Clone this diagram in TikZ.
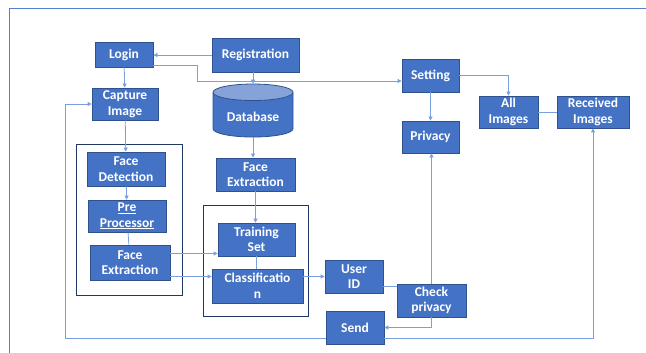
\documentclass[tikz,border=0pt]{standalone}
\usepackage{fontspec}
\setmainfont{Carlito}
\usepackage{tikz}
\usetikzlibrary{arrows.meta,positioning,calc,shapes.geometric}

\definecolor{boxblue}{RGB}{68,114,196}
\definecolor{boxedge}{RGB}{47,82,143}
\definecolor{linkblue}{RGB}{120,160,220}
\definecolor{grpedge}{RGB}{31,56,100}
\definecolor{framblue}{RGB}{80,130,210}

\begin{document}
\begin{tikzpicture}[
    >={Triangle[length=4pt,width=4pt]},
    x=1pt, y=-1pt,
    box/.style={draw=boxedge,fill=boxblue,text=white,thick,align=center,
                inner sep=1pt,font=\fontsize{13.5}{15.5}\selectfont\bfseries},
    grp/.style={draw=grpedge,thick,minimum width=#1},
    link/.style={->,linkblue,thick},
    tie/.style={-,linkblue,thick},
  ]
  \useasboundingbox (0,0) rectangle (646,353);

  % page frame
  \draw[framblue,thick] (9,353) -- (9,8) -- (646,8);

  % --- group boxes (drawn first, behind the steps) ---
  \node[grp=106pt,minimum height=151pt] (grpa) at (129,219.5) {};
  \node[grp=105pt,minimum height=111pt] (grpb) at (255.5,260.5) {};

  % --- top row ---
  \node[box,minimum width=58pt,minimum height=25pt] (login) at (124,54.5) {Login};
  \node[box,minimum width=87pt,minimum height=34pt] (reg)   at (255.5,55) {Registration};

  % --- left column: capture and preprocessing ---
  \node[box,minimum width=66pt,minimum height=32pt] (capture) at (125,104) {Capture\\Image};
  \node[box,minimum width=78pt,minimum height=34pt] (fdet)  at (126,169) {Face\\Detection};
  \node[box,minimum width=78pt,minimum height=32pt] (prep)  at (127,216) {\underline{Pre}\\\underline{Processor}};
  \node[box,minimum width=80pt,minimum height=35pt] (fextl) at (130,262.5) {Face\\Extraction};

  % --- middle column: database and training ---
  \node[cylinder,shape border rotate=90,aspect=0.28,draw=boxedge,thick,
        cylinder uses custom fill,cylinder body fill=boxblue,
        cylinder end fill=boxblue!65!white,text=white,
        minimum width=80pt,minimum height=53pt,
        font=\fontsize{13.5}{15.5}\selectfont\bfseries] (db) at (253,116.5) {Database};
  \node[box,minimum width=79pt,minimum height=33pt] (fextr)   at (255.5,174.5) {Face\\Extraction};
  \node[box,minimum width=77pt,minimum height=33pt] (train)   at (256.5,239.5) {Training\\Set};
  \node[box,minimum width=91pt,minimum height=34pt] (classif) at (257.5,286) {Classificatio\\n};

  % --- user side ---
  \node[box,minimum width=58pt,minimum height=33pt] (userid) at (354,276.5) {User\\ID};
  \node[box,minimum width=69pt,minimum height=33pt] (check)  at (431.5,300.5) {Check\\privacy};
  \node[box,minimum width=58pt,minimum height=33pt] (send)   at (355,327.5) {Send};

  % --- settings (right) ---
  \node[box,minimum width=57pt,minimum height=33pt] (setting) at (430.5,75.5) {Setting};
  \node[box,minimum width=57pt,minimum height=32pt] (privacy) at (430.5,137) {Privacy};
  \node[box,minimum width=59pt,minimum height=32pt] (allimg)  at (508.5,112) {All\\Images};
  \node[box,minimum width=72pt,minimum height=32pt] (recv)    at (593,112) {Received\\Images};

  % bend points of the long connectors
  \coordinate (bendL) at (197,81);
  \coordinate (loopL) at (65,338.5);

  % --- login / registration ---
  \draw[link] (reg.west) -- (reg.west -| login.east);
  \draw[link] (login) -- (capture);
  \draw[link] ([yshift=-11pt]login.east) -| (bendL) -- (bendL -| setting.west);
  \draw[link] (reg.south -| db.north) -- (db.north);
  \draw[link] (db.south) -- (db.south |- fextr.north);

  % --- face pipeline ---
  \draw[link] (capture) -- (fdet);
  \draw[link] (fdet) -- (prep);
  \draw[tie]  (prep) -- (fextl);
  \draw[link] (fextr) -- (fextr |- train.north);
  \draw[link] ([yshift=9pt]fextl.east) -- ([yshift=9pt]fextl.east -| train.west);
  \draw[link] ([yshift=-14pt]fextl.east) -- ([yshift=-14pt]fextl.east -| classif.west);
  \draw[tie]  (train) -- (train |- classif.north);
  \draw[link] (userid.west -| classif.east) -- (userid.west);

  % --- privacy check and sending ---
  \draw[tie]  ([yshift=-10pt]userid.east) -- ([yshift=-10pt]userid.east -| check.west);
  \draw[link] (check.north) -- (check.north |- privacy.south);
  \draw[link] (check.south) |- (send.east);
  \draw[link] ([yshift=-11pt]send.west) -- (loopL) |- (capture.west);
  \draw[link] ([yshift=-11pt]send.east) -| (recv.south);

  % --- settings ---
  \draw[link] (setting) -- (privacy);
  \draw[link] (setting.east) -| (allimg.north);
  \draw[tie]  (allimg) -- (recv);

\end{tikzpicture}
\end{document}
